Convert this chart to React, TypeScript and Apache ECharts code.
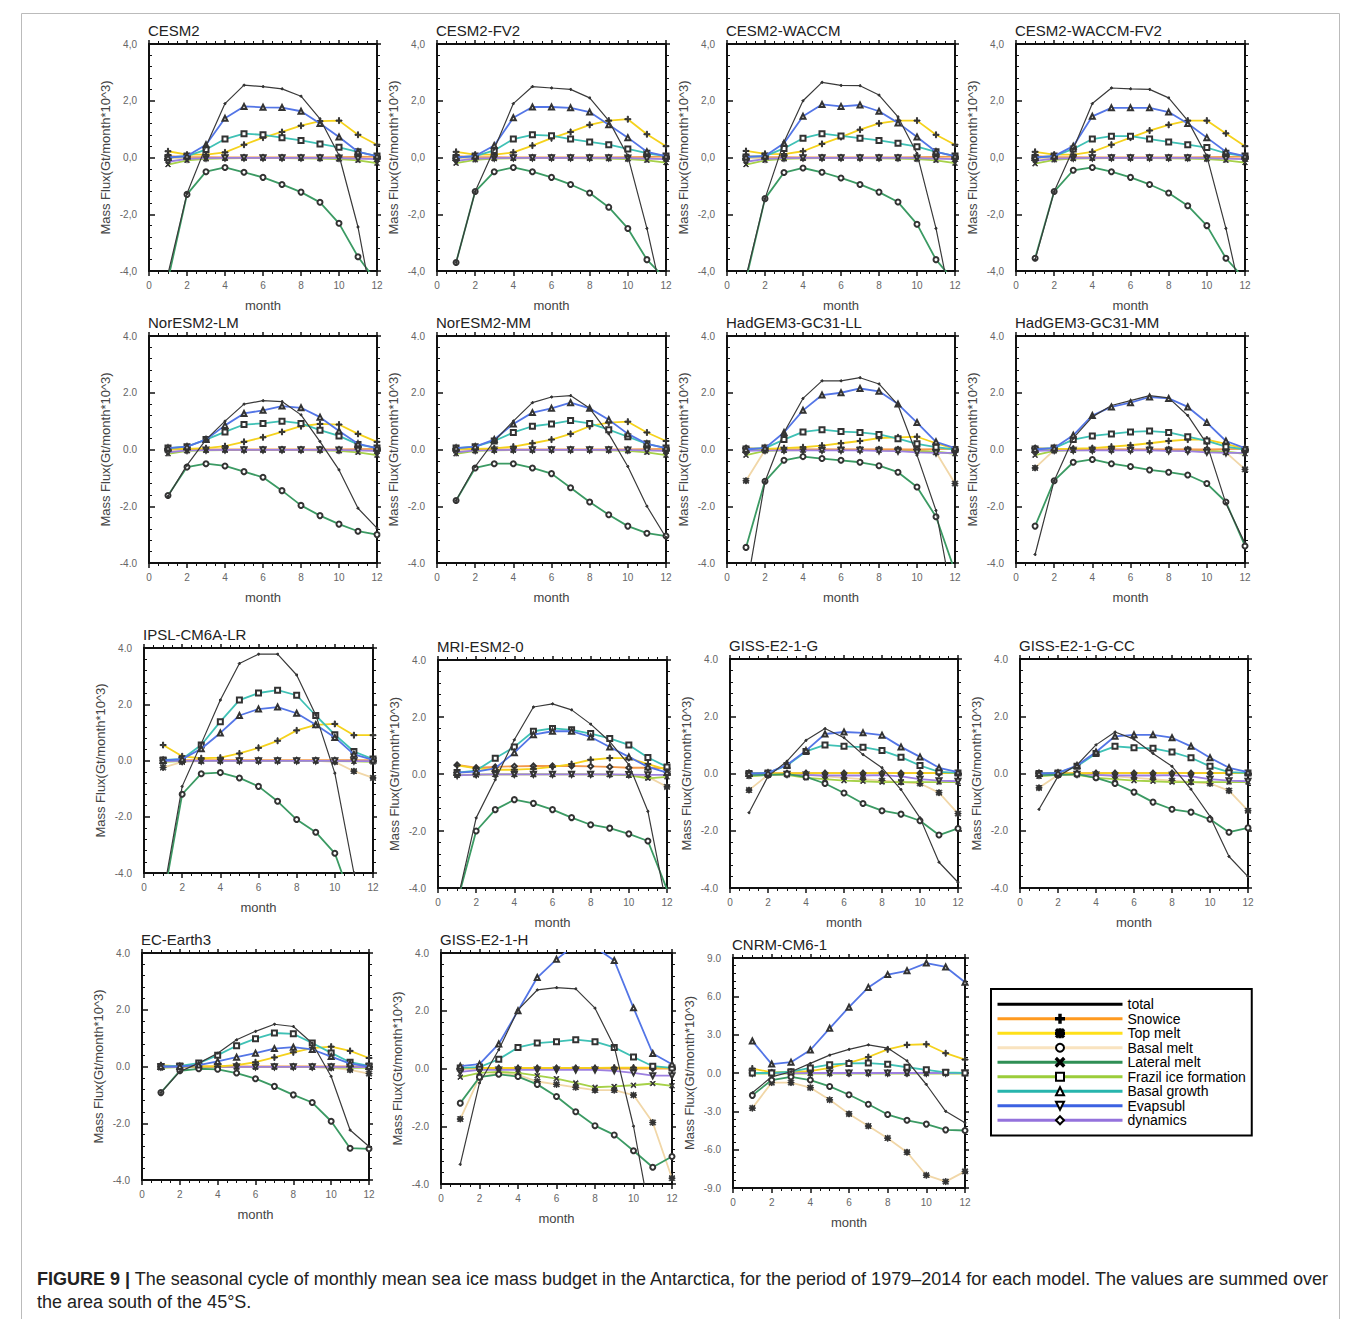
import React, { useEffect, useRef } from 'react';
import * as echarts from 'echarts';

// ---------------- data ----------------
const months = [1, 2, 3, 4, 5, 6, 7, 8, 9, 10, 11, 12];
const seriesNames = ['total', 'Snowice', 'Top melt', 'Basal melt', 'Lateral melt', 'Frazil ice formation', 'Basal growth', 'Evapsubl', 'dynamics'];
const panelNames = ['CESM2', 'CESM2-FV2', 'CESM2-WACCM', 'CESM2-WACCM-FV2', 'NorESM2-LM', 'NorESM2-MM', 'HadGEM3-GC31-LL', 'HadGEM3-GC31-MM', 'IPSL-CM6A-LR', 'MRI-ESM2-0', 'GISS-E2-1-G', 'GISS-E2-1-G-CC', 'EC-Earth3', 'GISS-E2-1-H', 'CNRM-CM6-1'];
const xTicks = [0, 2, 4, 6, 8, 10, 12];
const yTicksStd = [-4, -2, 0, 2, 4];
const yTicksCnrm = [-9, -6, -3, 0, 3, 6, 9];

// order of rows in each panel: total, Snowice, Top melt, Basal melt, Lateral melt, Frazil, Basal growth, Evapsubl, dynamics
const cesm2 = [
  [-4.1, -1.27, 0.4, 1.9, 2.55, 2.5, 2.42, 2.16, 1.36, 0.08, -2.45, -6.0],
  [0.22, 0.1, 0.1, 0.18, 0.45, 0.7, 0.9, 1.12, 1.28, 1.3, 0.8, 0.45],
  [-0.03, -0.02, -0.01, -0.01, -0.01, -0.01, -0.01, -0.01, -0.01, -0.02, -0.03, -0.06],
  [-4.3, -1.3, -0.5, -0.35, -0.52, -0.7, -0.95, -1.22, -1.58, -2.32, -3.5, -4.4],
  [-0.25, -0.1, -0.05, -0.03, -0.02, -0.02, -0.02, -0.03, -0.04, -0.06, -0.1, -0.2],
  [0.0, 0.05, 0.28, 0.65, 0.84, 0.8, 0.7, 0.6, 0.48, 0.36, 0.2, 0.05],
  [0.0, 0.05, 0.45, 1.38, 1.8, 1.77, 1.76, 1.63, 1.2, 0.72, 0.2, 0.05],
  [-0.15, -0.05, -0.02, -0.01, -0.01, -0.01, -0.01, -0.01, -0.01, -0.02, -0.04, -0.06],
  [0.05, 0.02, 0.01, 0, 0, 0, 0, 0, 0, 0.01, 0.02, 0.03],
];
const cesm2fv2 = [
  [-3.7, -1.2, 0.3, 1.9, 2.5, 2.45, 2.4, 2.1, 1.3, 0.05, -2.5, -5.5],
  [0.2, 0.1, 0.1, 0.18, 0.42, 0.68, 0.9, 1.15, 1.3, 1.35, 0.82, 0.4],
  [-0.03, -0.02, -0.01, -0.01, -0.01, -0.01, -0.01, -0.01, -0.01, -0.02, -0.03, -0.06],
  [-3.7, -1.2, -0.5, -0.35, -0.5, -0.7, -0.95, -1.25, -1.75, -2.5, -3.6, -4.3],
  [-0.2, -0.08, -0.04, -0.03, -0.02, -0.02, -0.02, -0.03, -0.04, -0.06, -0.1, -0.18],
  [0.0, 0.05, 0.25, 0.65, 0.8, 0.77, 0.65, 0.55, 0.45, 0.3, 0.15, 0.05],
  [0.0, 0.05, 0.42, 1.4, 1.78, 1.78, 1.75, 1.6, 1.15, 0.7, 0.2, 0.05],
  [-0.12, -0.04, -0.02, -0.01, -0.01, -0.01, -0.01, -0.01, -0.01, -0.02, -0.04, -0.06],
  [0.05, 0.02, 0.01, 0, 0, 0, 0, 0, 0, 0.01, 0.02, 0.03],
];
const cesm2waccm = [
  [-4.2, -1.45, 0.55, 2.0, 2.65, 2.54, 2.53, 2.2, 1.43, 0.14, -2.5, -5.8],
  [0.23, 0.13, 0.12, 0.22, 0.48, 0.72, 0.98, 1.2, 1.3, 1.3, 0.8, 0.45],
  [-0.03, -0.02, -0.01, -0.01, -0.01, -0.01, -0.01, -0.01, -0.01, -0.02, -0.03, -0.06],
  [-4.3, -1.45, -0.53, -0.37, -0.52, -0.72, -0.95, -1.22, -1.57, -2.35, -3.6, -4.4],
  [-0.25, -0.1, -0.05, -0.03, -0.02, -0.02, -0.02, -0.03, -0.04, -0.06, -0.1, -0.2],
  [0.02, 0.05, 0.32, 0.68, 0.84, 0.76, 0.68, 0.6, 0.5, 0.38, 0.2, 0.05],
  [0.02, 0.05, 0.5, 1.45, 1.87, 1.8, 1.85, 1.63, 1.22, 0.72, 0.2, 0.05],
  [-0.15, -0.05, -0.02, -0.01, -0.01, -0.01, -0.01, -0.01, -0.01, -0.02, -0.04, -0.06],
  [0.05, 0.02, 0.01, 0, 0, 0, 0, 0, 0, 0.01, 0.02, 0.03],
];
const cesm2waccmfv2 = [
  [-3.6, -1.2, 0.3, 1.9, 2.45, 2.42, 2.4, 2.1, 1.3, 0.05, -2.5, -5.5],
  [0.2, 0.1, 0.1, 0.2, 0.45, 0.7, 0.95, 1.15, 1.3, 1.3, 0.85, 0.4],
  [-0.03, -0.02, -0.01, -0.01, -0.01, -0.01, -0.01, -0.01, -0.01, -0.02, -0.03, -0.06],
  [-3.55, -1.2, -0.45, -0.35, -0.5, -0.7, -0.95, -1.25, -1.7, -2.4, -3.55, -4.3],
  [-0.22, -0.08, -0.04, -0.03, -0.02, -0.02, -0.02, -0.03, -0.04, -0.06, -0.1, -0.18],
  [0.0, 0.05, 0.3, 0.65, 0.75, 0.75, 0.65, 0.55, 0.45, 0.35, 0.15, 0.05],
  [0.0, 0.05, 0.4, 1.45, 1.75, 1.75, 1.75, 1.6, 1.2, 0.7, 0.2, 0.05],
  [-0.12, -0.04, -0.02, -0.01, -0.01, -0.01, -0.01, -0.01, -0.01, -0.02, -0.04, -0.06],
  [0.05, 0.02, 0.01, 0, 0, 0, 0, 0, 0, 0.01, 0.02, 0.03],
];
const noresm2lm = [
  [-1.65, -0.55, 0.35, 1.0, 1.6, 1.72, 1.69, 1.22, 0.28, -0.72, -2.07, -2.77],
  [0.02, 0.02, 0.05, 0.12, 0.27, 0.43, 0.62, 0.82, 0.9, 0.88, 0.55, 0.27],
  [-0.03, -0.02, -0.01, -0.01, -0.01, -0.01, -0.01, -0.01, -0.01, -0.02, -0.03, -0.05],
  [-1.62, -0.62, -0.5, -0.58, -0.78, -0.98, -1.45, -1.97, -2.33, -2.63, -2.88, -3.0],
  [-0.15, -0.05, -0.03, -0.02, -0.02, -0.02, -0.02, -0.02, -0.03, -0.05, -0.1, -0.2],
  [0.05, 0.1, 0.35, 0.62, 0.88, 0.92, 1.0, 0.92, 0.68, 0.48, 0.18, 0.05],
  [0.05, 0.1, 0.35, 0.85, 1.27, 1.38, 1.53, 1.47, 1.14, 0.65, 0.2, 0.05],
  [-0.1, -0.03, -0.02, -0.01, -0.01, -0.01, -0.01, -0.01, -0.01, -0.02, -0.03, -0.05],
  [0.03, 0.01, 0, 0, 0, 0, 0, 0, 0, 0, 0.01, 0.02],
];
const noresm2mm = [
  [-1.8, -0.6, 0.3, 1.0, 1.65, 1.85, 1.9, 1.45, 0.55, -0.6, -2.0, -3.1],
  [0.02, 0.02, 0.04, 0.1, 0.22, 0.35, 0.55, 0.82, 0.95, 0.98, 0.6, 0.3],
  [-0.03, -0.02, -0.01, -0.01, -0.01, -0.01, -0.01, -0.01, -0.01, -0.02, -0.03, -0.05],
  [-1.8, -0.65, -0.5, -0.5, -0.65, -0.85, -1.35, -1.85, -2.3, -2.7, -2.95, -3.05],
  [-0.15, -0.05, -0.03, -0.02, -0.02, -0.02, -0.02, -0.02, -0.03, -0.05, -0.1, -0.2],
  [0.05, 0.1, 0.3, 0.6, 0.82, 0.9, 1.02, 0.92, 0.7, 0.45, 0.2, 0.05],
  [0.05, 0.1, 0.35, 0.9, 1.3, 1.45, 1.65, 1.45, 1.05, 0.55, 0.2, 0.05],
  [-0.1, -0.03, -0.02, -0.01, -0.01, -0.01, -0.01, -0.01, -0.01, -0.02, -0.03, -0.05],
  [0.03, 0.01, 0, 0, 0, 0, 0, 0, 0, 0, 0.01, 0.02],
];
const hadgemll = [
  [-5.0, -1.13, 0.6, 1.8, 2.42, 2.42, 2.53, 2.31, 1.57, -0.2, -2.15, -5.8],
  [0.02, 0.02, 0.05, 0.08, 0.14, 0.22, 0.3, 0.4, 0.43, 0.45, 0.22, 0.02],
  [-1.1, -0.02, -0.01, 0, 0, 0, 0, 0, 0, -0.02, -0.1, -1.2],
  [-3.45, -1.12, -0.38, -0.25, -0.32, -0.38, -0.45, -0.57, -0.8, -1.32, -2.37, -4.3],
  [-0.2, -0.05, -0.03, -0.02, -0.02, -0.02, -0.02, -0.02, -0.03, -0.05, -0.08, -0.15],
  [0.02, 0.05, 0.35, 0.62, 0.7, 0.63, 0.6, 0.53, 0.38, 0.2, 0.08, 0.0],
  [0.0, 0.05, 0.6, 1.38, 1.92, 2.0, 2.15, 2.05, 1.6, 0.95, 0.27, 0.05],
  [-0.05, -0.03, -0.03, -0.03, -0.03, -0.03, -0.03, -0.05, -0.06, -0.1, -0.12, -0.12],
  [0.05, 0.02, 0, 0, 0, 0, 0, 0, 0, 0, 0.01, 0.02],
];
const hadgemmm = [
  [-3.7, -1.1, 0.4, 1.15, 1.55, 1.72, 1.9, 1.82, 1.2, 0.2, -1.9, -3.3],
  [0.02, 0.02, 0.03, 0.05, 0.1, 0.15, 0.22, 0.3, 0.35, 0.35, 0.2, 0.02],
  [-0.65, -0.02, -0.01, 0, 0, 0, 0, 0, 0, -0.02, -0.1, -0.7],
  [-2.7, -1.1, -0.45, -0.35, -0.5, -0.6, -0.72, -0.8, -0.9, -1.2, -1.85, -3.4],
  [-0.2, -0.05, -0.03, -0.02, -0.02, -0.02, -0.02, -0.02, -0.03, -0.05, -0.08, -0.15],
  [0.02, 0.05, 0.35, 0.48, 0.55, 0.62, 0.65, 0.6, 0.45, 0.3, 0.1, 0.0],
  [0.0, 0.05, 0.5, 1.2, 1.5, 1.65, 1.85, 1.8, 1.5, 0.95, 0.3, 0.05],
  [-0.05, -0.03, -0.03, -0.03, -0.03, -0.03, -0.03, -0.05, -0.06, -0.1, -0.12, -0.12],
  [0.05, 0.02, 0, 0, 0, 0, 0, 0, 0, 0, 0.01, 0.02],
];
const ipsl = [
  [-4.8, -0.92, 0.6, 2.15, 3.45, 3.78, 3.78, 3.04, 1.62, -0.45, -4.0, -7.5],
  [0.55, 0.15, 0.08, 0.1, 0.25, 0.45, 0.7, 1.07, 1.27, 1.3, 0.9, 0.9],
  [-0.25, -0.05, -0.02, -0.01, -0.01, -0.01, -0.01, -0.01, -0.01, -0.05, -0.38, -0.62],
  [-5.0, -1.2, -0.47, -0.43, -0.62, -0.92, -1.45, -2.1, -2.55, -3.3, -5.2, -6.0],
  [-0.05, -0.02, -0.01, -0.01, -0.01, -0.01, -0.01, -0.01, -0.01, -0.02, -0.03, -0.05],
  [0.02, 0.05, 0.55, 1.38, 2.15, 2.4, 2.5, 2.32, 1.6, 0.92, 0.32, 0.05],
  [0.0, 0.05, 0.42, 0.98, 1.6, 1.83, 1.9, 1.68, 1.27, 0.82, 0.22, 0.02],
  [-0.02, -0.01, -0.01, -0.01, -0.01, -0.01, -0.01, -0.01, -0.01, -0.01, -0.02, -0.02],
  [0.01, 0.01, 0.01, 0.01, 0.01, 0.01, 0.01, 0.01, 0.01, 0.01, 0.01, 0.01],
];
const mri = [
  [-4.5, -1.54, -0.2, 1.2, 2.35, 2.46, 2.25, 1.75, 1.14, 0.33, -1.31, -4.7],
  [0.3, 0.2, 0.15, 0.15, 0.18, 0.25, 0.35, 0.5, 0.56, 0.56, 0.35, 0.15],
  [-0.02, -0.02, -0.01, -0.01, -0.01, -0.01, -0.01, -0.01, -0.01, -0.03, -0.1, -0.45],
  [-4.5, -2.0, -1.25, -0.9, -1.03, -1.25, -1.53, -1.78, -1.9, -2.1, -2.35, -4.05],
  [-0.05, -0.02, -0.01, -0.01, -0.01, -0.01, -0.01, -0.01, -0.02, -0.05, -0.15, -0.1],
  [0.05, 0.12, 0.55, 0.95, 1.5, 1.6, 1.55, 1.42, 1.25, 1.02, 0.58, 0.25],
  [0.05, 0.08, 0.2, 0.75, 1.38, 1.5, 1.5, 1.3, 0.95, 0.6, 0.25, 0.05],
  [-0.05, -0.02, -0.01, -0.01, -0.01, -0.01, -0.01, -0.01, -0.01, -0.02, -0.03, -0.03],
  [0.32, 0.22, 0.25, 0.27, 0.28, 0.28, 0.28, 0.27, 0.25, 0.22, 0.22, 0.2],
];
const gissg = [
  [-1.37, -0.1, 0.43, 1.16, 1.57, 1.25, 0.66, 0.2, -0.56, -1.55, -3.1, -3.8],
  [0.0, 0.0, 0.0, 0.01, 0.01, 0.01, 0.01, 0.01, 0.01, 0.01, 0.01, 0.01],
  [-0.58, -0.05, -0.02, -0.05, -0.1, -0.15, -0.2, -0.25, -0.3, -0.35, -0.67, -1.4],
  [-0.05, -0.05, -0.02, -0.12, -0.35, -0.68, -1.05, -1.3, -1.42, -1.65, -2.15, -1.92],
  [-0.1, -0.05, -0.05, -0.15, -0.2, -0.25, -0.27, -0.3, -0.3, -0.3, -0.3, -0.3],
  [0.0, 0.02, 0.28, 0.77, 1.0, 0.95, 0.92, 0.8, 0.57, 0.28, 0.06, 0.02],
  [0.0, 0.02, 0.3, 0.8, 1.38, 1.45, 1.42, 1.34, 0.93, 0.58, 0.2, 0.05],
  [-0.05, -0.03, -0.03, -0.05, -0.07, -0.07, -0.07, -0.06, -0.1, -0.2, -0.25, -0.27],
  [0.01, 0.01, 0.01, 0.01, 0.01, 0.01, 0.01, 0.01, 0.01, 0.01, 0.01, 0.01],
];
const gissgcc = [
  [-1.25, -0.1, 0.3, 1.0, 1.45, 1.2, 0.7, 0.25, -0.55, -1.5, -2.9, -3.6],
  [0.0, 0.0, 0.0, 0.01, 0.01, 0.01, 0.01, 0.01, 0.01, 0.01, 0.01, 0.01],
  [-0.5, -0.05, -0.02, -0.05, -0.1, -0.15, -0.2, -0.25, -0.3, -0.35, -0.6, -1.3],
  [-0.05, -0.05, -0.02, -0.15, -0.35, -0.65, -1.0, -1.25, -1.35, -1.6, -2.05, -1.9],
  [-0.1, -0.05, -0.05, -0.15, -0.2, -0.25, -0.27, -0.3, -0.3, -0.3, -0.3, -0.3],
  [0.0, 0.02, 0.25, 0.7, 0.95, 0.9, 0.88, 0.75, 0.55, 0.25, 0.05, 0.02],
  [0.0, 0.02, 0.28, 0.75, 1.3, 1.35, 1.35, 1.25, 0.95, 0.55, 0.2, 0.05],
  [-0.05, -0.03, -0.03, -0.05, -0.07, -0.07, -0.07, -0.06, -0.1, -0.2, -0.25, -0.27],
  [0.01, 0.01, 0.01, 0.01, 0.01, 0.01, 0.01, 0.01, 0.01, 0.01, 0.01, 0.01],
];
const ecearth3 = [
  [-0.92, -0.18, 0.12, 0.47, 0.94, 1.24, 1.49, 1.41, 0.82, -0.35, -2.24, -2.82],
  [0.05, 0.0, 0.0, 0.0, 0.05, 0.15, 0.32, 0.5, 0.65, 0.7, 0.55, 0.3],
  [-0.02, -0.01, -0.01, -0.01, -0.01, -0.01, -0.01, -0.01, -0.02, -0.05, -0.12, -0.25],
  [-0.92, -0.15, -0.08, -0.1, -0.23, -0.43, -0.7, -1.0, -1.27, -1.93, -2.88, -2.9],
  [-0.05, -0.02, -0.01, -0.01, -0.01, -0.01, -0.01, -0.01, -0.02, -0.03, -0.05, -0.05],
  [0.0, 0.02, 0.12, 0.4, 0.73, 0.98, 1.18, 1.15, 0.83, 0.48, 0.15, 0.02],
  [0.0, 0.0, 0.05, 0.18, 0.33, 0.47, 0.63, 0.68, 0.6, 0.35, 0.1, 0.0],
  [-0.01, -0.01, -0.01, -0.01, -0.01, -0.01, -0.01, -0.01, -0.01, -0.01, -0.02, -0.02],
  [0.0, 0.0, 0.0, 0.0, 0.0, 0.0, 0.0, 0.0, 0.0, 0.0, 0.0, 0.0],
];
const gissh = [
  [-3.32, -0.5, 0.65, 2.03, 2.72, 2.8, 2.76, 2.09, 0.76, -2.0, -5.6, -8.0],
  [0.02, 0.02, 0.02, 0.02, 0.02, 0.02, 0.02, 0.02, 0.03, 0.03, 0.03, 0.02],
  [-1.75, -0.3, -0.15, -0.22, -0.45, -0.55, -0.65, -0.75, -0.75, -0.92, -1.87, -3.8],
  [-1.2, -0.3, -0.2, -0.28, -0.55, -0.97, -1.5, -1.98, -2.3, -2.85, -3.42, -3.05],
  [-0.3, -0.15, -0.12, -0.15, -0.25, -0.35, -0.5, -0.65, -0.62, -0.58, -0.52, -0.6],
  [0.02, 0.05, 0.32, 0.73, 0.88, 0.93, 1.0, 0.93, 0.73, 0.4, 0.08, 0.02],
  [0.08, 0.15, 0.85, 2.0, 3.15, 3.78, 4.3, 4.2, 3.74, 2.1, 0.52, 0.15],
  [-0.12, -0.05, -0.05, -0.05, -0.05, -0.05, -0.05, -0.05, -0.08, -0.15, -0.25, -0.25],
  [0.0, 0.0, 0.0, 0.0, 0.0, 0.0, 0.0, 0.0, 0.0, 0.0, 0.0, 0.0],
];
const cnrm = [
  [-1.55, -0.3, 0.1, 0.75, 1.4, 1.85, 2.2, 1.95, 0.95, -0.9, -3.0, -3.9],
  [0.35, 0.05, 0.1, 0.15, 0.4, 0.8, 1.25, 1.85, 2.2, 2.25, 1.55, 1.05],
  [-2.75, -0.75, -0.75, -1.15, -2.1, -3.2, -4.15, -5.1, -6.2, -8.0, -8.5, -7.7],
  [-1.75, -0.55, -0.3, -0.55, -1.05, -1.7, -2.45, -3.25, -3.7, -4.0, -4.45, -4.5],
  [-0.05, -0.05, -0.05, -0.05, -0.05, -0.05, -0.05, -0.05, -0.05, -0.05, -0.05, -0.05],
  [0.0, 0.0, 0.1, 0.4, 0.65, 0.75, 0.78, 0.68, 0.45, 0.25, 0.05, 0.0],
  [2.5, 0.7, 0.85, 1.8, 3.5, 5.15, 6.7, 7.7, 8.0, 8.6, 8.3, 7.1],
  [0.0, 0.0, 0.0, 0.0, 0.0, 0.0, 0.0, 0.0, 0.0, 0.0, 0.0, 0.0],
  [0.0, 0.0, 0.0, 0.0, 0.0, 0.0, 0.0, 0.0, 0.0, 0.0, 0.0, 0.0],
];
const panelData = [cesm2, cesm2fv2, cesm2waccm, cesm2waccmfv2, noresm2lm, noresm2mm, hadgemll, hadgemmm, ipsl, mri, gissg, gissgcc, ecearth3, gissh, cnrm];
const panelYTicks = [yTicksStd, yTicksStd, yTicksStd, yTicksStd, yTicksStd, yTicksStd, yTicksStd, yTicksStd, yTicksStd, yTicksStd, yTicksStd, yTicksStd, yTicksStd, yTicksStd, yTicksCnrm];

// ---------------- layout & style (kept apart from the data) ----------------
const panelBoxes = [
  [149, 44, 228, 227], [437, 44, 229, 227], [727, 44, 228, 227], [1016, 44, 229, 227],
  [149, 336, 228, 227], [437, 336, 229, 227], [727, 336, 228, 227], [1016, 336, 229, 227],
  [144, 648, 229, 225], [438, 660, 229, 228], [730, 659, 228, 229], [1020, 659, 228, 229],
  [142, 953, 227, 227], [441, 953, 231, 231], [733, 958, 232, 230],
];
const commaLabels = [true, true, true, true, false, false, false, false, false, false, false, false, false, false, false];

const FONT = '"Liberation Sans", Arial, Helvetica, sans-serif';
const PLUS = 'path://M4.1,0H5.9V4.1H10V5.9H5.9V10H4.1V5.9H0V4.1H4.1Z';
const CROSS = 'path://M1.2,0L5,3.8L8.8,0L10,1.2L6.2,5L10,8.8L8.8,10L5,6.2L1.2,10L0,8.8L3.8,5L0,1.2Z';
const STAR = 'path://M4.2,0H5.8V4.2H10V5.8H5.8V10H4.2V5.8H0V4.2H4.2ZM1.4,0.3L5,3.9L8.6,0.3L9.7,1.4L6.1,5L9.7,8.6L8.6,9.7L5,6.1L1.4,9.7L0.3,8.6L3.9,5L0.3,1.4Z';
const plotColors = ['#3a3a3a', '#f5d21c', '#f1d7a8', '#3b9a63', '#a6d148', '#3fc1b5', '#5375e6', '#9d80e0', '#f2994a'];
const legendColors = ['#000000', '#ff9a1f', '#ffe01a', '#f9e3bf', '#2f8f55', '#9bcd3a', '#27b5ad', '#3c62e2', '#9472dc'];
const symbols = ['circle', PLUS, STAR, 'emptyCircle', CROSS, 'emptyRect', 'emptyTriangle', 'emptyTriangle', 'emptyDiamond'];
const symbolRot = [0, 0, 0, 0, 0, 0, 0, 180, 0];
const symbolSizes = [2, 6, 6, 5, 5, 5, 5, 5, 5];
const zOrder = [9, 5, 2, 6, 3, 7, 8, 4, 3];

function buildOption() {
  const grid: any[] = [];
  const xAxis: any[] = [];
  const yAxis: any[] = [];
  const series: any[] = [];
  const title: any[] = [];
  const axisLine = { show: true, onZero: false, lineStyle: { color: '#111', width: 2 } };
  panelNames.forEach((name, i) => {
    const [left, top, width, height] = panelBoxes[i];
    grid.push({ left, top, width, height, containLabel: false, outerBoundsMode: 'none', show: false });
    title.push({
      text: name, left: left - 1, top: top - 21, padding: 0,
      textStyle: { fontSize: 15, fontWeight: 'normal', color: '#222', fontFamily: FONT },
    });
    const xBase = { gridIndex: i, type: 'value', min: xTicks[0], max: xTicks[xTicks.length - 1], interval: xTicks[1] - xTicks[0], splitLine: { show: false } };
    xAxis.push({
      ...xBase, position: 'bottom', axisLine,
      axisTick: { show: true, inside: false, length: 5, lineStyle: { color: '#111', width: 1.5 } },
      minorTick: { show: true, splitNumber: 4, length: 3, lineStyle: { color: '#111', width: 1 } },
      axisLabel: { color: '#666', fontSize: 10, margin: 9, fontFamily: FONT },
      name: 'month', nameLocation: 'middle', nameGap: 28,
      nameTextStyle: { color: '#444', fontSize: 13, fontFamily: FONT },
    });
    xAxis.push({
      ...xBase, position: 'top', axisLine,
      axisTick: { show: true, inside: false, length: 4, lineStyle: { color: '#111', width: 1.5 } },
      minorTick: { show: true, splitNumber: 4, length: 3, lineStyle: { color: '#111', width: 1 } },
      axisLabel: { show: false },
    });
    const ticks = panelYTicks[i];
    const comma = commaLabels[i];
    const yBase = { gridIndex: i, type: 'value', min: ticks[0], max: ticks[ticks.length - 1], interval: ticks[1] - ticks[0], splitLine: { show: false } };
    yAxis.push({
      ...yBase, position: 'left', axisLine,
      axisTick: { show: true, inside: true, length: 6, lineStyle: { color: '#111', width: 1.5 } },
      minorTick: { show: true, splitNumber: 5, length: 3, lineStyle: { color: '#111', width: 1 } },
      axisLabel: {
        color: '#666', fontSize: 10, margin: 12, fontFamily: FONT,
        formatter: (v: number) => { const s = v.toFixed(1); return comma ? s.replace('.', ',') : s; },
      },
      name: 'Mass Flux(Gt/month*10^3)', nameLocation: 'middle', nameGap: 37, nameRotate: 90,
      nameTextStyle: { color: '#444', fontSize: 13, fontFamily: FONT },
    });
    yAxis.push({
      ...yBase, position: 'right', axisLine,
      axisTick: { show: true, inside: false, length: 4, lineStyle: { color: '#111', width: 1.5 } },
      minorTick: { show: true, splitNumber: 5, length: 3, lineStyle: { color: '#111', width: 1 } },
      axisLabel: { show: false },
    });
    const vals = panelData[i];
    seriesNames.forEach((sn, s) => {
      series.push({
        type: 'line', name: name + ' ' + sn,
        xAxisIndex: 2 * i, yAxisIndex: 2 * i,
        data: months.map((m, k) => [m, vals[s][k]]),
        symbol: symbols[s], symbolSize: symbolSizes[s], symbolRotate: symbolRot[s],
        showSymbol: true, clip: true, silent: true, z: zOrder[s],
        lineStyle: { color: plotColors[s], width: s === 0 ? 1.2 : 1.8 },
        itemStyle: { color: '#333', borderColor: '#333', borderWidth: 1 },
      });
    });
  });
  // legend-only series (no data)
  seriesNames.forEach((sn, s) => {
    const hidden = s === 0;
    series.push({
      type: 'line', name: sn, xAxisIndex: 0, yAxisIndex: 0, data: [],
      symbol: hidden ? 'circle' : symbols[s], symbolRotate: symbolRot[s],
      lineStyle: { color: legendColors[s], width: 3 },
      itemStyle: hidden
        ? { color: 'rgba(0,0,0,0)', borderColor: 'rgba(0,0,0,0)', borderWidth: 0 }
        : { color: '#000', borderColor: '#000', borderWidth: 2 },
    });
  });
  return {
    animation: false,
    backgroundColor: '#fff',
    grid, xAxis, yAxis, series, title,
    legend: {
      data: seriesNames, orient: 'vertical', left: 991, top: 989,
      itemWidth: 125, itemHeight: 10, itemGap: 0,
      padding: [8, 6, 8, 5], borderColor: '#000', borderWidth: 2,
      selectedMode: false,
      lineStyle: { width: 3 },
      textStyle: { color: '#000', fontSize: 14, lineHeight: 14.5, fontFamily: FONT },
    },
    graphic: [
      { type: 'line', shape: { x1: 21.5, y1: 13.5, x2: 21.5, y2: 1319 }, style: { stroke: '#bbb', lineWidth: 1 }, silent: true },
      { type: 'line', shape: { x1: 1339.5, y1: 13.5, x2: 1339.5, y2: 1319 }, style: { stroke: '#bbb', lineWidth: 1 }, silent: true },
      { type: 'line', shape: { x1: 21.5, y1: 13.5, x2: 1339.5, y2: 13.5 }, style: { stroke: '#bbb', lineWidth: 1 }, silent: true },
      {
        type: 'text', left: 37, top: 1270, silent: true,
        style: {
          text: '{b|FIGURE 9 |} The seasonal cycle of monthly mean sea ice mass budget in the Antarctica, for the period of 1979\u20132014 for each model. The values are summed over',
          rich: { b: { fontWeight: 'bold', fontSize: 18, fontFamily: FONT, fill: '#222' } },
          fontSize: 18, fontFamily: FONT, fill: '#222',
        },
      },
      {
        type: 'text', left: 37, top: 1293, silent: true,
        style: { text: 'the area south of the 45\u00b0S.', fontSize: 18, fontFamily: FONT, fill: '#222' },
      },
    ],
  };
}

export default function App() {
  const ref = useRef<HTMLDivElement>(null);
  useEffect(() => {
    document.body.style.margin = '0';
    if (!ref.current) return;
    const chart = echarts.init(ref.current, null, { renderer: 'svg' });
    chart.setOption(buildOption() as any);
    return () => chart.dispose();
  }, []);
  return <div ref={ref} style={{ width: 1360, height: 1319 }} />;
}
